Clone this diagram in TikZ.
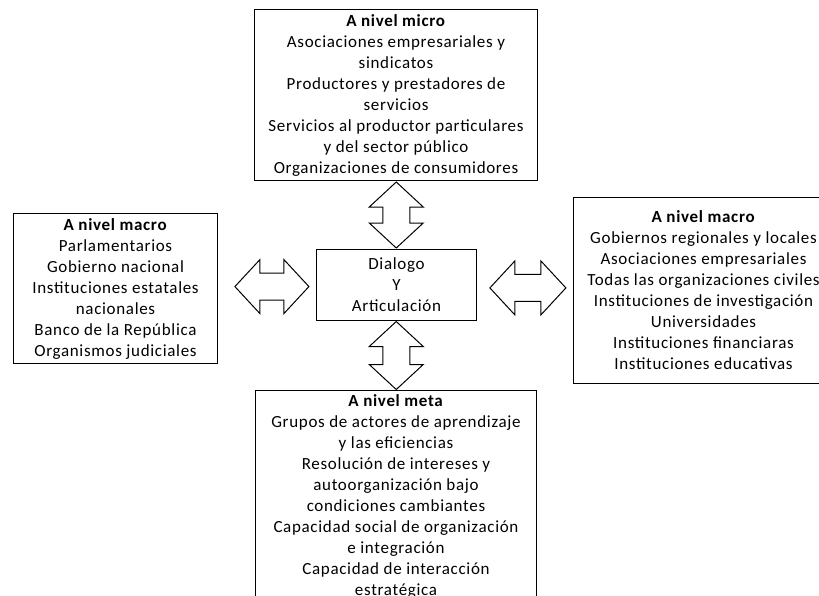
\documentclass[tikz,border=0pt]{standalone}
\usepackage{fontspec}
\setmainfont{Carlito}[LetterSpace=4]
\usetikzlibrary{calc}

\begin{document}
\begin{tikzpicture}[x=1pt,y=-1pt,
    box/.style={draw,line width=1pt,inner sep=0pt,align=center,anchor=north west,
        font=\fontsize{17}{21}\selectfont},
    dblarr/.pic={
        \draw[line width=1pt,line join=miter] (-#1/2,0) -- (-#1/2+25,27) -- (-#1/2+25,13.5)
            -- (#1/2-25,13.5) -- (#1/2-25,27) -- (#1/2,0) -- (#1/2-25,-27) -- (#1/2-25,-13.5)
            -- (-#1/2+25,-13.5) -- (-#1/2+25,-27) -- cycle;
    }]
            \clip (0,0) rectangle (819,595);
            \node[box,minimum width=283pt,minimum height=171pt] (micro) at (254,9)
                {\textbf{A nivel micro}\\Asociaciones empresariales y\\sindicatos\\Productores y prestadores de\\servicios\\Servicios al productor particulares\\y del sector público\\Organizaciones de consumidores};
            \node[box,minimum width=204pt,minimum height=150pt] (macroizq) at (13,213)
                {\textbf{A nivel macro}\\Parlamentarios\\Gobierno nacional\\Instituciones estatales\\nacionales\\Banco de la República\\Organismos judiciales};
            \node[box,minimum width=260pt,minimum height=186pt] (macroder) at (573,197)
                {\textbf{A nivel macro}\\Gobiernos regionales y locales\\Asociaciones empresariales\\Todas las organizaciones civiles\\Instituciones de investigación\\Universidades\\Instituciones financiaras\\Instituciones educativas};
            \node[box,minimum width=160pt,minimum height=71pt] (dialogo) at (316,249)
                {Dialogo\\Y\\Articulación};
            \node[box,minimum width=281pt,minimum height=212pt] (meta) at (255,390)
                {\textbf{A nivel meta}\\Grupos de actores de aprendizaje\\y las eficiencias\\Resolución de intereses  y\\autoorganización bajo\\condiciones cambiantes\\Capacidad social de organización\\e integración\\Capacidad de interacción\\estratégica};
            \pic[rotate=90] at ($(micro.south)!.5!(dialogo.north)$) {dblarr=66};
            \pic[rotate=90] at ($(dialogo.south)!.5!(meta.north)$) {dblarr=68};
            \pic at ($(macroizq.east)!.55!(dialogo.west)$) {dblarr=74};
            \pic at ($(dialogo.east)!.53!(macroder.west)$) {dblarr=76};
        \end{tikzpicture}
\end{document}
